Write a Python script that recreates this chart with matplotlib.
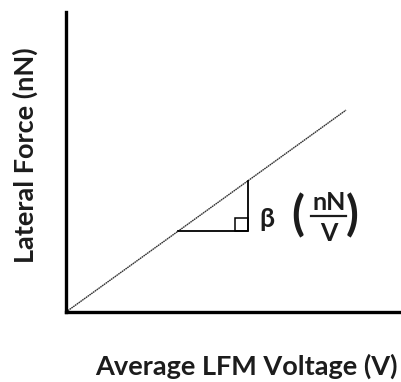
import matplotlib
matplotlib.use("Agg")
import matplotlib.pyplot as plt
from matplotlib.patches import Rectangle

# line data (arbitrary units)
voltage = [0.0, 1.0]
force = [0.0, 0.673]
# slope triangle corners
tri_x = [0.40, 0.65, 0.65]
tri_y = [0.269, 0.269, 0.437]
sq = 0.045

xlabel = "Average LFM Voltage (V)"
ylabel = "Lateral Force (nN)"
ink = "#1c1c1c"
font = "Lato"

fig = plt.figure(figsize=(4.02, 3.82), dpi=100)
W, H = 402, 382
ax = fig.add_axes([66 / W, (H - 312) / H, (W - 66) / W, 300 / H])
ax.set_xlim(0, 1.2)
ax.set_ylim(0, 1)

for s in ["top", "right"]:
    ax.spines[s].set_visible(False)
for s in ["left", "bottom"]:
    ax.spines[s].set_linewidth(2.4)
    ax.spines[s].set_color("black")
ax.set_xticks([])
ax.set_yticks([])

ax.plot(voltage, force, color="#333333", lw=1.0, ls=(0, (1.2, 0.4)))

# triangle
ax.plot(tri_x, tri_y, color="black", lw=1.3)
ax.add_patch(Rectangle((tri_x[1] - sq, tri_y[1]), sq, sq, fill=False,
                       edgecolor="black", lw=1.1))

# beta label
txt = dict(fontweight="bold", family=font, color=ink, ha="center",
           va="center", clip_on=False)
ax.text(0.718, 0.31, "β", fontsize=19, **txt)
ax.text(0.829, 0.322, "(", fontsize=34, **txt)
ax.text(1.023, 0.322, ")", fontsize=34, **txt)
ax.text(0.939, 0.365, "nN", fontsize=18, **txt)
ax.text(0.939, 0.262, "V", fontsize=18, **txt)
ax.plot([0.875, 1.0], [0.32, 0.32], color=ink, lw=1.6, clip_on=False)

fig.text(246 / W, 1 - 366 / H, xlabel, fontsize=19.5, fontweight="bold",
         family=font, color=ink, ha="center", va="center")
fig.text(25 / W, 1 - 155 / H, ylabel, fontsize=19.5, fontweight="bold",
         family=font, color=ink, ha="center", va="center", rotation=90)

fig.savefig("out.png", dpi=100)
